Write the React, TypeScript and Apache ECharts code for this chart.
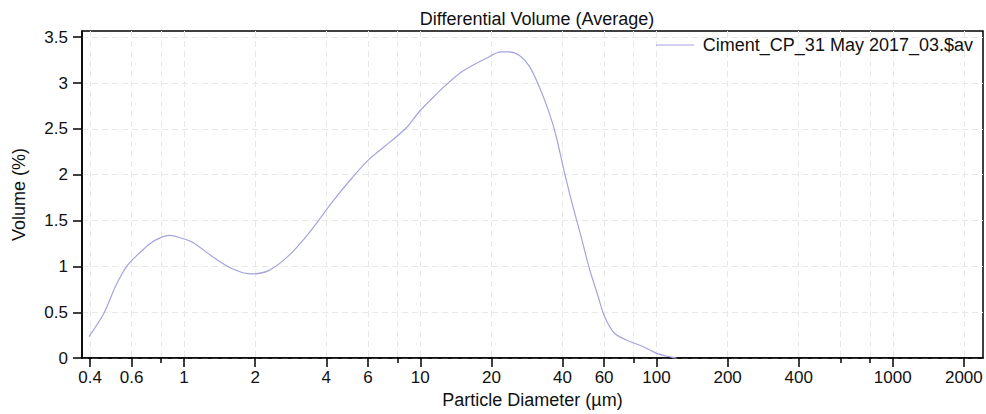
import React, { useEffect, useRef } from "react";
import * as echarts from "echarts";

const diameters = [
  0.396, 0.458, 0.514, 0.575, 0.689, 0.76, 0.87, 0.97, 1.086, 1.36, 1.6, 1.92, 2.29, 2.78,
  3.39, 4.26, 5.16, 6.08, 7.39, 8.71, 9.91, 10.9, 12.85, 15.1, 19.0, 22.0, 23.8, 26.3, 29.0,
  31.9, 35.2, 37.6, 40.8, 44.2, 48.0, 52.0, 56.4, 60.3, 66.4, 74.4, 87.5, 99.7, 111.7, 121.6,
];
const volumes = [
  0.235, 0.49, 0.79, 1.01, 1.21, 1.29, 1.338, 1.31, 1.264, 1.083, 0.975, 0.918, 0.957, 1.12,
  1.37, 1.71, 1.97, 2.17, 2.35, 2.51, 2.69, 2.8, 2.98, 3.13, 3.27, 3.34, 3.34, 3.3, 3.18,
  2.96, 2.67, 2.42, 2.02, 1.66, 1.32, 0.975, 0.686, 0.452, 0.271, 0.198, 0.127, 0.054, 0.018, 0.0,
];
const labeledTicks = [0.4, 0.6, 1, 2, 4, 6, 10, 20, 40, 60, 100, 200, 400, 1000, 2000];
const minorTicks = [0.8, 8, 80, 600, 800];
const yTicks = [0, 0.5, 1, 1.5, 2, 2.5, 3, 3.5];
const seriesName = "Ciment_CP_31 May 2017_03.$av";
const titleText = "Differential Volume (Average)";
const xName = "Particle Diameter (µm)";
const yName = "Volume (%)";

const X_MIN = Math.log10(0.3698);
const X_MAX = Math.log10(2410);
const Y_MAX = 3.568;

const LINE_COLOR = "#a4a4de";
const FONT = "Liberation Sans, Arial, Helvetica, sans-serif";
const gridLine = { show: true, lineStyle: { color: "#e8e8e8", width: 1, type: [6, 4] as any } };

export default function App() {
  const ref = useRef<HTMLDivElement>(null);
  useEffect(() => {
    if (!ref.current) return;
    const chart = echarts.init(ref.current, undefined, { renderer: "svg" });
    const data = diameters.map((d, i) => [Math.log10(d), volumes[i]]);
    const fmt = (v: number) => String(parseFloat(Math.pow(10, v).toPrecision(3)));
    chart.setOption({
      animation: false,
      backgroundColor: "#fff",
      textStyle: { fontFamily: FONT },
      title: {
        text: titleText,
        left: 532,
        top: 5,
        textAlign: "center",
        textStyle: { fontFamily: FONT, fontSize: 18, fontWeight: "normal", color: "#111" },
      },
      legend: {
        show: true,
        right: 13,
        top: 36,
        padding: 0,
        icon: "rect",
        itemWidth: 38,
        itemHeight: 1.2,
        itemStyle: { color: LINE_COLOR },
        textStyle: { fontFamily: FONT, fontSize: 18, color: "#111", padding: [0, 0, 0, 4] },
        data: [seriesName],
      },
      grid: {
        left: 82,
        right: 3,
        top: 31,
        bottom: 54,
        show: true,
        borderColor: "#000",
        borderWidth: 1.5,
        containLabel: false,
      },
      xAxis: [
        {
          type: "value",
          min: X_MIN,
          max: X_MAX,
          position: "bottom",
          name: xName,
          nameLocation: "middle",
          nameGap: 31,
          nameTextStyle: { fontFamily: FONT, fontSize: 18, color: "#111" },
          axisLine: { show: true, onZero: false, lineStyle: { color: "#000", width: 1.5 } },
          axisTick: {
            show: true,
            inside: false,
            length: 9,
            lineStyle: { color: "#000", width: 1.5 },
            customValues: labeledTicks.map((t) => Math.log10(t)),
          },
          axisLabel: {
            show: true,
            margin: 11,
            fontFamily: FONT,
            fontSize: 17,
            color: "#111",
            customValues: labeledTicks.map((t) => Math.log10(t)),
            formatter: fmt,
          },
          splitLine: gridLine,
        },
        {
          type: "value",
          min: X_MIN,
          max: X_MAX,
          position: "bottom",
          axisLine: { show: false, onZero: false },
          axisTick: {
            show: true,
            inside: false,
            length: 5,
            lineStyle: { color: "#000", width: 1.5 },
            customValues: minorTicks.map((t) => Math.log10(t)),
          },
          axisLabel: { show: false, customValues: minorTicks.map((t) => Math.log10(t)) },
          splitLine: gridLine,
        },
      ],
      yAxis: {
        type: "value",
        min: 0,
        max: Y_MAX,
        name: yName,
        nameLocation: "middle",
        nameGap: 54,
        nameTextStyle: { fontFamily: FONT, fontSize: 18, color: "#111" },
        axisLine: { show: true, onZero: false, lineStyle: { color: "#000", width: 1.5 } },
        axisTick: {
          show: true,
          inside: false,
          length: 9,
          lineStyle: { color: "#000", width: 1.5 },
          customValues: yTicks,
        },
        axisLabel: {
          show: true,
          margin: 14,
          fontFamily: FONT,
          fontSize: 17,
          color: "#111",
          customValues: yTicks,
        },
        splitLine: gridLine,
      },
      series: [
        {
          name: seriesName,
          type: "line",
          xAxisIndex: 0,
          data,
          symbol: "none",
          showSymbol: false,
          smooth: 0.3,
          lineStyle: { color: LINE_COLOR, width: 1.2 },
          itemStyle: { color: LINE_COLOR },
          clip: true,
        },
      ],
    });
    return () => chart.dispose();
  }, []);
  return (
    <div
      ref={ref}
      style={{ position: "fixed", left: 0, top: 0, width: 986, height: 414, background: "#fff" }}
    />
  );
}
